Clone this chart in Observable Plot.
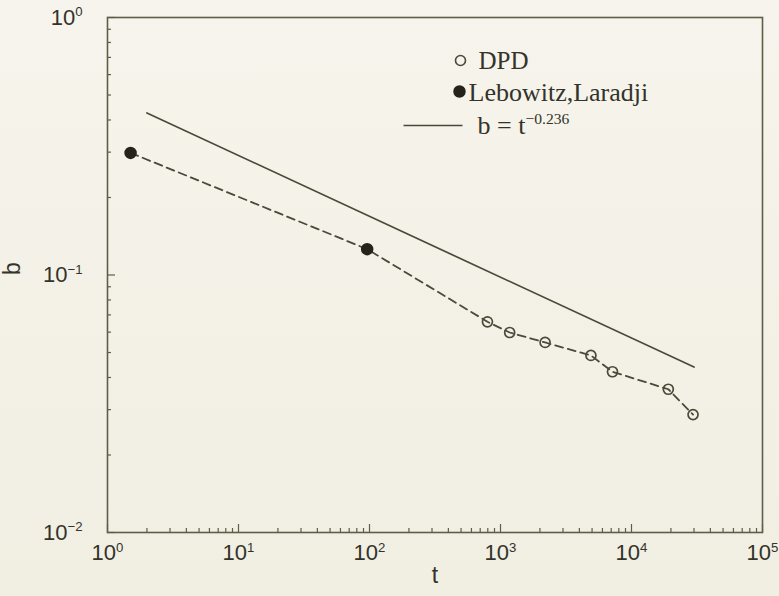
<!DOCTYPE html>
<html><head><meta charset="utf-8">
<script src="https://cdn.jsdelivr.net/npm/d3@7"></script>
<script src="https://cdn.jsdelivr.net/npm/@observablehq/plot@0.6"></script>
<style>
html,body{margin:0;padding:0;background:#f3f1e6;}
#chart{width:779px;height:596px;background:linear-gradient(#f6f4ec,#f1eee2);}
svg{display:block;}
</style></head><body><div id="chart"></div>
<script>
// Data
const lebowitzT = [1.5, 96];
const lebowitzB = [0.298, 0.126];
const dpdT = [795, 1175, 2190, 4900, 7160, 19100, 29500];
const dpdB = [0.0658, 0.0598, 0.0547, 0.0487, 0.0421, 0.0360, 0.0287];
const fitT = [2, 30000];
const fitB = [0.426, 0.0439];
const xTicks = [1, 10, 100, 1000, 10000, 100000];
const yTicks = [0.01, 0.1, 1];
const legendLabels = ["DPD", "Lebowitz,Laradji", "b = t^\u22120.236"];
const xLabel = "t";
const yLabel = "b";

const xMinor = [];
for (let k = 0; k < 5; k++) for (let m = 2; m < 10; m++) xMinor.push(m * Math.pow(10, k));
const yMinor = [];
for (let k = -2; k < 0; k++) for (let m = 2; m < 10; m++) yMinor.push(m * Math.pow(10, k));

const lebowitz = lebowitzT.map((t, i) => ({t, b: lebowitzB[i]}));
const dpd = dpdT.map((t, i) => ({t, b: dpdB[i]}));
const fit = fitT.map((t, i) => ({t, b: fitB[i]}));
const dashed = [...lebowitz, ...dpd];

const W = 779, H = 596, ML = 107, MR = 17, MT = 17, MB = 64;
const innerW = W - ML - MR, innerH = H - MT - MB;
const axisColor = "#5e5e48";
const lineColor = "#4a4a38";
const textColor = "#33332a";
const sans = "'Liberation Sans', Arial, Helvetica, sans-serif";
const serif = "'Liberation Serif', 'Times New Roman', serif";
const pow = d => "10^" + String(Math.round(Math.log10(d))).replace("-", "\u2212");
// horizontal line glyph for the legend key of the fitted line
const dashSymbol = {draw(ctx) { ctx.moveTo(-29.5, 0); ctx.lineTo(29.5, 0); }};

const chart = Plot.plot({
  width: W, height: H,
  marginLeft: ML, marginRight: MR, marginTop: MT, marginBottom: MB,
  style: {background: "transparent", fontFamily: sans, color: textColor},
  x: {type: "log", domain: [1, 1e5], axis: null},
  y: {type: "log", domain: [0.01, 1], axis: null},
  marks: [
    Plot.frame({stroke: axisColor, strokeWidth: 1.6}),
    Plot.tickX(xMinor, {x: d => d, stroke: axisColor, strokeWidth: 1.2, insetTop: innerH - 4}),
    Plot.tickX(xTicks, {x: d => d, stroke: axisColor, strokeWidth: 1.2, insetTop: innerH - 8}),
    Plot.tickY(yMinor, {y: d => d, stroke: axisColor, strokeWidth: 1.2, insetRight: innerW - 4}),
    Plot.tickY(yTicks, {y: d => d, stroke: axisColor, strokeWidth: 1.2, insetRight: innerW - 8}),
    Plot.axisX(xTicks, {tickSize: 0, tickPadding: 12, tickFormat: pow, fontSize: 22, fill: textColor, label: null, fontFamily: sans}),
    Plot.axisY(yTicks, {tickSize: 0, tickPadding: 25, tickFormat: pow, fontSize: 22, fill: textColor, label: null, fontFamily: sans}),
    Plot.text([xLabel], {frameAnchor: "bottom", dy: 50, fontSize: 23, fill: textColor, fontFamily: sans}),
    Plot.text([yLabel], {frameAnchor: "left", dx: -95, rotate: -90, fontSize: 23, fill: textColor, fontFamily: sans}),
    Plot.line(dashed, {x: "t", y: "b", stroke: lineColor, strokeWidth: 1.8, strokeDasharray: "8,5"}),
    Plot.line(fit, {x: "t", y: "b", stroke: lineColor, strokeWidth: 1.7}),
    Plot.dot(lebowitz, {x: "t", y: "b", r: 5.5, fill: "#24241a", stroke: "#24241a"}),
    Plot.dot(dpd, {x: "t", y: "b", r: 5, fill: "none", stroke: "#4a4a38", strokeWidth: 1.7}),
    // legend
    Plot.dot([legendLabels[0]], {frameAnchor: "top-left", dx: 353, dy: 43, r: 5, fill: "none", stroke: "#4a4a38", strokeWidth: 1.6}),
    Plot.dot([legendLabels[1]], {frameAnchor: "top-left", dx: 352, dy: 74, r: 5.5, fill: "#24241a", stroke: "#24241a"}),
    Plot.dot([legendLabels[2]], {frameAnchor: "top-left", dx: 325.5, dy: 108, symbol: dashSymbol, fill: "none", stroke: lineColor, strokeWidth: 1.7}),
    Plot.text([legendLabels[0]], {frameAnchor: "top-left", dx: 371, dy: 51, text: d => d, textAnchor: "start", lineAnchor: "bottom", fontSize: 25, fontFamily: serif, fill: textColor}),
    Plot.text([legendLabels[1]], {frameAnchor: "top-left", dx: 361, dy: 83, text: d => d, textAnchor: "start", lineAnchor: "bottom", fontSize: 26, fontFamily: serif, fill: textColor}),
    Plot.text([legendLabels[2]], {frameAnchor: "top-left", dx: 370, dy: 116, text: d => d, textAnchor: "start", lineAnchor: "bottom", fontSize: 26, fontFamily: serif, fill: textColor})
  ]
});

// superscript exponents: "10^-1" -> 10 with raised exponent
const NS = "http://www.w3.org/2000/svg";
chart.querySelectorAll("text").forEach(el => {
  const s = el.textContent;
  const i = s.indexOf("^");
  if (i < 0) return;
  while (el.firstChild) el.removeChild(el.firstChild);
  const a = document.createElementNS(NS, "tspan");
  a.textContent = s.slice(0, i);
  const b = document.createElementNS(NS, "tspan");
  b.textContent = s.slice(i + 1);
  b.setAttribute("dy", "-0.62em");
  b.setAttribute("font-size", "0.6em");
  el.append(a, b);
});
document.getElementById("chart").appendChild(chart);
</script>
</body></html>
